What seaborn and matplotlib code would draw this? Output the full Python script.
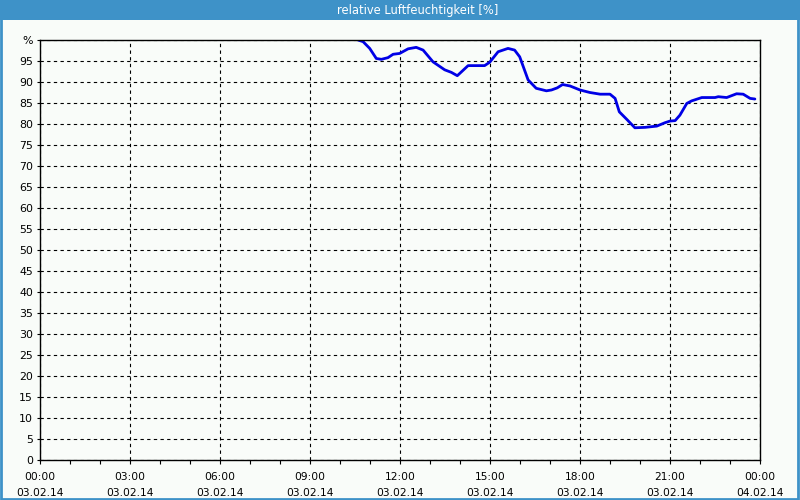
import matplotlib
matplotlib.use("Agg")
import matplotlib.pyplot as plt
import matplotlib.patches as mpatches
import seaborn as sns
import pandas as pd
import numpy as np

# Time in hours since 03.02.14 00:00
hours = [10.60, 10.77, 10.99, 11.21, 11.38, 11.60, 11.77, 11.99, 12.27, 12.54,
         12.77, 13.10, 13.49, 13.71, 13.91, 14.27, 14.82, 14.99, 15.27, 15.60,
         15.82, 15.99, 16.27, 16.54, 16.88, 17.05, 17.24, 17.42, 17.67, 18.00,
         18.33, 18.67, 19.00, 19.17, 19.31, 19.56, 19.83, 20.17, 20.56, 20.83,
         21.00, 21.17, 21.33, 21.56, 21.72, 22.06, 22.50, 22.61, 22.89, 23.22,
         23.44, 23.67, 23.83]
humidity = [100.0, 99.6, 98.0, 95.6, 95.4, 95.8, 96.6, 96.8, 97.9, 98.25,
            97.6, 94.8, 92.9, 92.3, 91.5, 93.9, 93.9, 94.7, 97.2, 98.0,
            97.6, 96.0, 90.5, 88.5, 87.9, 88.1, 88.6, 89.4, 89.05, 88.1,
            87.5, 87.1, 87.1, 86.1, 82.9, 81.1, 79.1, 79.2, 79.5, 80.3,
            80.7, 80.8, 82.1, 84.9, 85.5, 86.3, 86.3, 86.5, 86.3, 87.2,
            87.1, 86.1, 85.95]

x_tick_hours = [0, 3, 6, 9, 12, 15, 18, 21, 24]
x_tick_labels = ["00:00\n03.02.14", "03:00\n03.02.14", "06:00\n03.02.14",
                 "09:00\n03.02.14", "12:00\n03.02.14", "15:00\n03.02.14",
                 "18:00\n03.02.14", "21:00\n03.02.14", "00:00\n04.02.14"]
y_ticks = list(range(0, 101, 5))
y_tick_labels = [str(v) for v in y_ticks[:-1]] + ["%"]
title = "relative Luftfeuchtigkeit [%]"

sns.set_style("white")
plt.rcParams['font.family'] = ['DejaVu Sans']

bg = "#f9fcf9"
blue_bar = "#3e92c8"

fig = plt.figure(figsize=(8, 5), dpi=100, facecolor=bg)
ax = fig.add_axes([40/800, 40/500, 720/800, 420/500])
ax.set_facecolor(bg)

df = pd.DataFrame({"t": hours, "rh": humidity})
sns.lineplot(data=df, x="t", y="rh", ax=ax, color="#0000e6", linewidth=2)

ax.set_xlim(0, 24)
ax.set_ylim(0, 100)
ax.set_xticks(x_tick_hours)
ax.set_xticklabels(x_tick_labels, fontsize=7.7, linespacing=1.75, color="black")
ax.set_xticks(np.arange(0, 25, 1), minor=True)
ax.set_yticks(y_ticks)
ax.set_yticklabels(y_tick_labels, fontsize=7.9, color="black")
ax.set_xlabel("")
ax.set_ylabel("")

ax.grid(True, which="major", color="black", linestyle=(0, (3, 3)), linewidth=0.8)
ax.tick_params(axis="x", which="both", direction="out", length=3, width=0.8,
               color="black", pad=6, bottom=True)
ax.tick_params(axis="y", which="major", direction="out", length=2, width=0.8,
               color="black", pad=3, left=True)
for s in ax.spines.values():
    s.set_color("black")
    s.set_linewidth(1)
    s.set_visible(True)

# title bar
fig.patches.append(mpatches.Rectangle((0, 480/500), 1, 20/500, transform=fig.transFigure,
                                      facecolor=blue_bar, edgecolor="none", zorder=0))
fig.text(0.522, 489.5/500, title, color="white", fontsize=8.3, fontweight="normal",
         ha="center", va="center")
# outer border
fig.patches.append(mpatches.Rectangle((0.001, 0.002), 0.997, 0.996, transform=fig.transFigure,
                                      facecolor="none", edgecolor=blue_bar, linewidth=2, zorder=5))

fig.savefig("out.png", dpi=100, facecolor=bg)
